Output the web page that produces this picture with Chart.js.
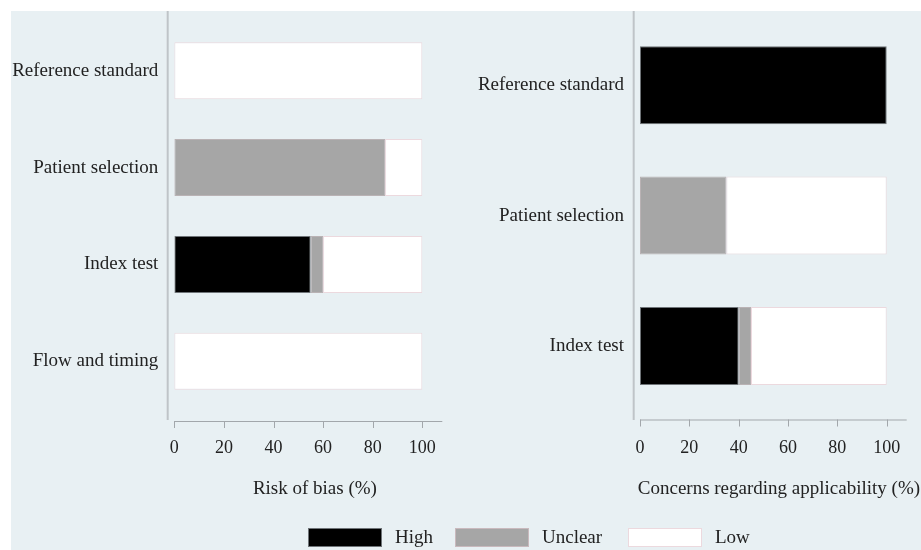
<!DOCTYPE html>
<html>
<head>
<meta charset="utf-8">
<script src="https://cdn.jsdelivr.net/npm/chart.js@4"></script>
<style>
  html, body { margin: 0; padding: 0; background: #ffffff; }
  #wrap { position: relative; width: 921px; height: 550px; overflow: hidden; }
  #bg { position: absolute; left: 11px; top: 11px; right: 0; bottom: 0; background: #e8f0f3; }
  canvas { position: absolute; left: 0; top: 0; }
  .lg-box { position: absolute; top: 528px; width: 74px; height: 19px; box-sizing: border-box; }
  .lg-txt { position: absolute; top: 527px; font: 19px "Liberation Serif", "Times New Roman", serif; line-height: 19px; color: #222; white-space: nowrap; }
</style>
</head>
<body>
<div id="wrap">
  <div id="bg"></div>
  <canvas id="c1" width="921" height="550"></canvas>
  <canvas id="c2" width="921" height="550"></canvas>
  <div class="lg-box" style="left:308px;background:#000000;border:1px solid #6f7478;"></div>
  <div class="lg-txt" style="left:395px;">High</div>
  <div class="lg-box" style="left:455px;background:#a6a6a6;border:1px solid #c9b9bd;"></div>
  <div class="lg-txt" style="left:542px;">Unclear</div>
  <div class="lg-box" style="left:628px;background:#ffffff;border:1px solid #ecd9de;"></div>
  <div class="lg-txt" style="left:715px;">Low</div>
</div>
<script>
// ---- data ----
const biasCategories = ['Reference standard', 'Patient selection', 'Index test', 'Flow and timing'];
const biasHigh    = [0, 0, 55, 0];
const biasUnclear = [0, 85, 5, 0];
const biasLow     = [100, 15, 40, 100];

const appCategories = ['Reference standard', 'Patient selection', 'Index test'];
const appHigh    = [100, 0, 40];
const appUnclear = [0, 35, 5];
const appLow     = [0, 65, 55];

const xTickValues = [0, 20, 40, 60, 80, 100];
const biasTitle = 'Risk of bias (%)';
const appTitle = 'Concerns regarding applicability (%)';

// ---- styles ----
const FONT = '"Liberation Serif", "Times New Roman", serif';
const TXT = '#222222';
const COL_HIGH = '#000000', COL_UNCLEAR = '#a6a6a6', COL_LOW = '#ffffff';
const BRD_HIGH = '#6f7478', BRD_UNCLEAR = '#b9b2b4', BRD_LOW = '#ecd9de';

const nz = arr => arr.map(v => (v === 0 ? null : v));

const axisLinesPlugin = {
  id: 'axisLines',
  afterDraw(chart, args, o) {
    const { ctx, chartArea } = chart;
    const x = chart.scales.x;
    ctx.save();
    // vertical (category) axis line
    ctx.strokeStyle = '#bfc4c8';
    ctx.lineWidth = 2;
    const yx = chartArea.left - o.yGap;
    ctx.beginPath();
    ctx.moveTo(yx, o.yTop);
    ctx.lineTo(yx, o.yBottom);
    ctx.stroke();
    // horizontal value axis line + ticks
    ctx.strokeStyle = '#a2a7ab';
    ctx.lineWidth = 1;
    const ly = o.xLineY;
    ctx.beginPath();
    ctx.moveTo(x.getPixelForValue(0), ly + 0.5);
    ctx.lineTo(chartArea.right, ly + 0.5);
    x.ticks.forEach(t => {
      const px = Math.round(x.getPixelForValue(t.value)) + 0.5;
      ctx.moveTo(px, ly);
      ctx.lineTo(px, ly + 7);
    });
    ctx.stroke();
    // axis title
    ctx.fillStyle = TXT;
    ctx.font = '19px ' + FONT;
    ctx.textAlign = 'center';
    ctx.textBaseline = 'alphabetic';
    ctx.fillText(o.title, x.getPixelForValue(o.titleAt), o.titleY);
    ctx.restore();
  }
};

function makeChart(id, cats, high, unclear, low, cfg) {
  return new Chart(document.getElementById(id), {
    type: 'bar',
    data: {
      labels: cats,
      datasets: [
        { label: 'High', data: nz(high), backgroundColor: COL_HIGH, borderColor: BRD_HIGH, borderWidth: 1, borderSkipped: false },
        { label: 'Unclear', data: nz(unclear), backgroundColor: COL_UNCLEAR, borderColor: BRD_UNCLEAR, borderWidth: 1, borderSkipped: false },
        { label: 'Low', data: nz(low), backgroundColor: COL_LOW, borderColor: BRD_LOW, borderWidth: 1, borderSkipped: false }
      ]
    },
    options: {
      indexAxis: 'y',
      responsive: false,
      animation: false,
      devicePixelRatio: 1,
      layout: { padding: cfg.padding },
      datasets: { bar: { categoryPercentage: 1, barPercentage: cfg.barPct } },
      plugins: {
        legend: { display: false },
        tooltip: { enabled: false },
        axisLines: cfg.lines
      },
      scales: {
        x: {
          stacked: true,
          min: 0,
          max: cfg.xMax,
          grid: { display: false, drawTicks: false },
          border: { display: false },
          afterBuildTicks: s => { s.ticks = xTickValues.map(v => ({ value: v })); },
          afterFit: s => { s.height = 60; s.paddingLeft = 0; s.paddingRight = 0; },
          ticks: { color: TXT, font: { family: FONT, size: 18 }, padding: cfg.xTickPad, maxRotation: 0 }
        },
        y: {
          stacked: true,
          grid: { display: false, drawTicks: false },
          border: { display: false },
          afterFit: s => { s.width = cfg.yWidth; s.paddingTop = 0; s.paddingBottom = 0; },
          ticks: { color: TXT, font: { family: FONT, size: 19 }, padding: 16 }
        }
      }
    },
    plugins: [axisLinesPlugin]
  });
}

makeChart('c1', biasCategories, biasHigh, biasUnclear, biasLow, {
  padding: { left: 0, right: 478.7, top: 22.3, bottom: 80.3 },
  yWidth: 174.3,
  xMax: 108.06,
  barPct: 0.588,
  xTickPad: 28,
  lines: { yGap: 6.6, yTop: 11, yBottom: 420, xLineY: 421, title: biasTitle, titleAt: 56.7, titleY: 494 }
});

makeChart('c2', appCategories, appHigh, appUnclear, appLow, {
  padding: { left: 0, right: 14.3, top: 20, bottom: 78.8 },
  yWidth: 640,
  xMax: 108.1,
  barPct: 0.598,
  xTickPad: 26,
  lines: { yGap: 6.3, yTop: 11, yBottom: 420, xLineY: 419.5, title: appTitle, titleAt: 56.3, titleY: 494 }
});
</script>
</body>
</html>
